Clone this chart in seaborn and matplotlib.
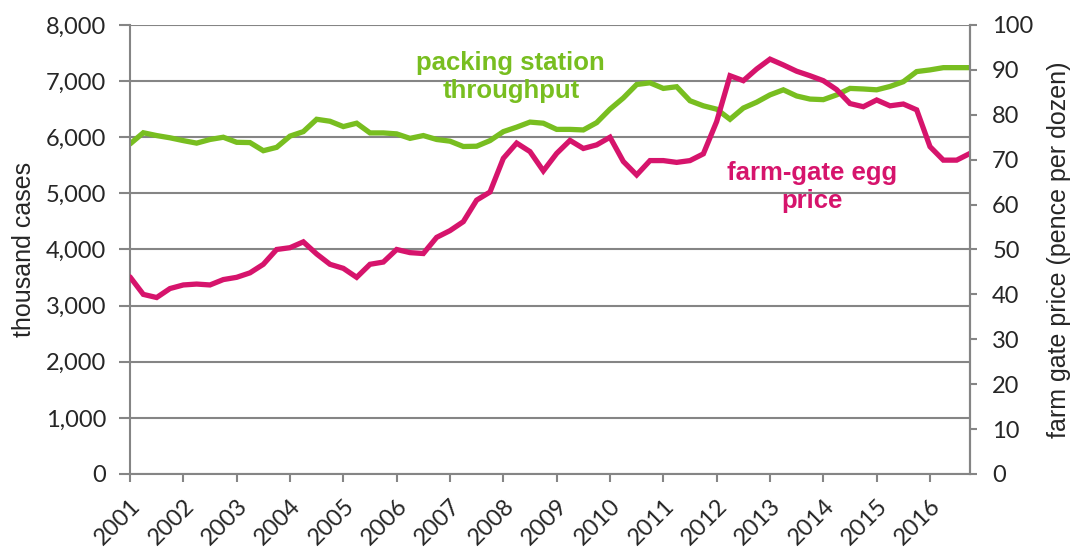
import matplotlib
matplotlib.use("Agg")
import matplotlib.pyplot as plt
from matplotlib.ticker import MultipleLocator, StrMethodFormatter
import numpy as np
import pandas as pd
import seaborn as sns

# quarterly values, 2001 Q1 .. 2016 Q4
START_YEAR = 2001
YEARS = list(range(2001, 2017))

# packing station throughput (thousand cases)
throughput = [
    5880, 6080, 6030, 5990, 5940, 5895, 5960, 6000, 5910, 5905,
    5760, 5820, 6020, 6100, 6320, 6285, 6190, 6250, 6077, 6077,
    6060, 5980, 6030, 5960, 5930, 5835, 5840, 5940, 6100, 6180,
    6270, 6250, 6140, 6140, 6130, 6260, 6500, 6700, 6940, 6970,
    6870, 6900, 6650, 6560, 6500, 6320, 6520, 6625, 6755, 6845,
    6735, 6680, 6670, 6755, 6870, 6860, 6845, 6905, 6990, 7170,
    7200, 7240, 7240, 7240,
]

# farm-gate egg price (pence per dozen)
egg_price = [
    43.9, 40.0, 39.3, 41.3, 42.1, 42.3, 42.1, 43.3, 43.8, 44.8,
    46.7, 50.0, 50.4, 51.7, 49.0, 46.7, 45.8, 43.8, 46.7, 47.2,
    50.0, 49.3, 49.1, 52.7, 54.2, 56.2, 61.0, 62.8, 70.3, 73.7,
    71.8, 67.5, 71.4, 74.3, 72.5, 73.3, 75.0, 69.6, 66.6, 69.8,
    69.8, 69.4, 69.8, 71.3, 78.5, 88.7, 87.6, 90.2, 92.4, 91.1,
    89.7, 88.7, 87.6, 85.6, 82.5, 81.8, 83.3, 82.0, 82.4, 81.1,
    72.9, 69.9, 69.9, 71.4,
]

GREEN = "#78BE20"
PINK = "#D6146C"
GREY = "#858585"

df = pd.DataFrame({
    "quarter": START_YEAR + np.arange(len(throughput)) * 0.25,
    "throughput": throughput,
    "price": egg_price,
})

sns.set_style("white")
plt.rcParams["font.family"] = ["Liberation Sans", "DejaVu Sans"]

fig = plt.figure(figsize=(10.76, 5.47), dpi=100)
ax = fig.add_axes([0.1208, 0.1335, 0.7807, 0.8208])
ax2 = ax.twinx()

sns.lineplot(data=df, x="quarter", y="throughput", ax=ax,
             color=GREEN, linewidth=3.8, solid_joinstyle="miter")
sns.lineplot(data=df, x="quarter", y="price", ax=ax2,
             color=PINK, linewidth=3.8, solid_joinstyle="miter")

ax.set_xlim(START_YEAR, df["quarter"].iloc[-1])
ax.set_ylim(0, 8000)
ax2.set_ylim(0, 100)
ax.yaxis.set_major_locator(MultipleLocator(1000))
ax.yaxis.set_major_formatter(StrMethodFormatter("{x:,.0f}"))
ax2.yaxis.set_major_locator(MultipleLocator(10))

TICK_FONT = dict(family="Lato", fontsize=17)
ax.set_xticks(YEARS)
ax.set_xticklabels([str(y) for y in YEARS], rotation=45, ha="right",
                   rotation_mode="anchor", **TICK_FONT)
for lab in ax.get_yticklabels() + ax2.get_yticklabels():
    lab.set_family(TICK_FONT["family"])
    lab.set_fontsize(TICK_FONT["fontsize"])

ax.grid(axis="y", color=GREY, linewidth=1.5)
ax.grid(axis="x", visible=False)
ax.set_axisbelow(True)

for a in (ax, ax2):
    a.spines["top"].set_visible(False)
    for s in ("left", "right", "bottom"):
        a.spines[s].set_color(GREY)
        a.spines[s].set_linewidth(1.5)
ax2.spines["left"].set_visible(False)
ax2.spines["bottom"].set_visible(False)

ax.tick_params(axis="y", left=True, length=8, width=1.5, color=GREY, pad=9)
ax.tick_params(axis="x", bottom=True, length=6, width=1.5, color=GREY, pad=9)
ax2.tick_params(axis="y", right=True, length=5, width=1.5, color=GREY, pad=11)

ax.set_xlabel("")
ax.set_ylabel("thousand cases", fontsize=18, labelpad=7)
ax2.set_ylabel("farm gate price (pence per dozen)", fontsize=18, labelpad=10)

ax.text(2008.14, 7070, "packing station\nthroughput", color=GREEN,
        fontsize=18.5, fontweight="bold", ha="center", va="center",
        linespacing=1.2)
ax.text(2013.79, 5110, "farm-gate egg\nprice", color=PINK,
        fontsize=18.5, fontweight="bold", ha="center", va="center",
        linespacing=1.2)

fig.savefig("out.png", dpi=100)
